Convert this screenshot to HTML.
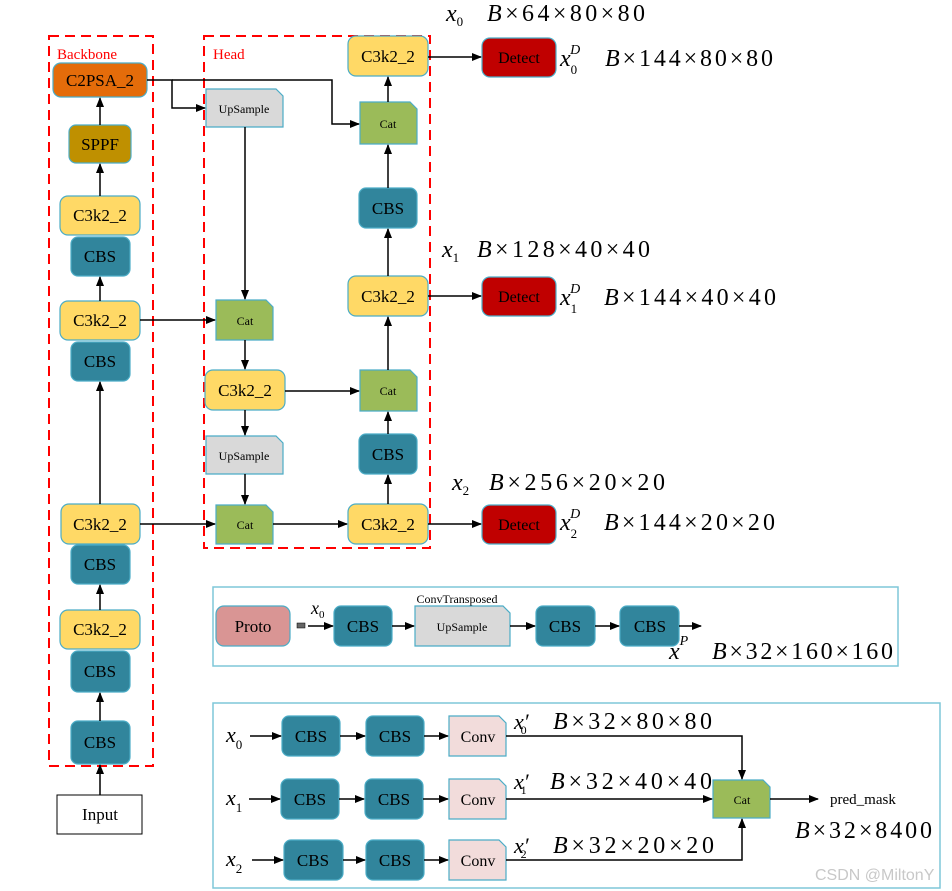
<!DOCTYPE html>
<html><head><meta charset="utf-8"><style>
html,body{margin:0;padding:0;background:#fff;}
svg{display:block;}
text{font-family:"Liberation Serif",serif;fill:#000;}
.m{font-style:italic;}
</style></head><body>
<svg width="952" height="891" viewBox="0 0 952 891" xmlns="http://www.w3.org/2000/svg">
<defs>
<marker id="a" markerWidth="10" markerHeight="8" refX="9" refY="4" orient="auto" markerUnits="userSpaceOnUse">
<path d="M0,0 L10,4 L0,8 z" fill="#000"/></marker>
</defs>
<g fill="none" stroke="#f00" stroke-width="2" stroke-dasharray="10,6">
<rect x="49" y="36" width="104" height="730"/>
<rect x="204" y="36" width="226" height="512"/>
</g>
<text x="57" y="59" font-size="15" style="fill:#f00">Backbone</text>
<text x="213" y="59" font-size="15" style="fill:#f00">Head</text>

<g stroke="#4bacc6" stroke-width="1.2">
<rect x="53" y="63" width="94" height="34" rx="8" fill="#e46c0a"/>
<rect x="69" y="125" width="62" height="38" rx="7" fill="#bf9000"/>
<rect x="60" y="196" width="80" height="39" rx="8" fill="#ffd966"/>
<rect x="71" y="237" width="59" height="39" rx="7" fill="#31859c"/>
<rect x="60" y="301" width="80" height="39" rx="8" fill="#ffd966"/>
<rect x="71" y="342" width="59" height="39" rx="7" fill="#31859c"/>
<rect x="61" y="504" width="79" height="40" rx="8" fill="#ffd966"/>
<rect x="71" y="545" width="59" height="39" rx="7" fill="#31859c"/>
<rect x="60" y="610" width="80" height="39" rx="8" fill="#ffd966"/>
<rect x="71" y="651" width="59" height="41" rx="7" fill="#31859c"/>
<rect x="71" y="721" width="59" height="43" rx="7" fill="#31859c"/>
<rect x="205" y="370" width="80" height="40" rx="8" fill="#ffd966"/>
<rect x="348" y="36" width="80" height="40" rx="8" fill="#ffd966"/>
<rect x="359" y="188" width="58" height="40" rx="7" fill="#31859c"/>
<rect x="348" y="276" width="80" height="40" rx="8" fill="#ffd966"/>
<rect x="359" y="434" width="58" height="40" rx="7" fill="#31859c"/>
<rect x="348" y="504" width="80" height="40" rx="8" fill="#ffd966"/>
<rect x="482" y="38" width="74" height="39" rx="8" fill="#c00000"/>
<rect x="482" y="277" width="74" height="39" rx="8" fill="#c00000"/>
<rect x="482" y="505" width="74" height="39" rx="8" fill="#c00000"/>
<rect x="216" y="606" width="74" height="40" rx="8" fill="#d99594"/>
<rect x="334" y="606" width="58" height="40" rx="7" fill="#31859c"/>
<rect x="536" y="606" width="59" height="40" rx="7" fill="#31859c"/>
<rect x="620" y="606" width="59" height="40" rx="7" fill="#31859c"/>
<rect x="282" y="716" width="58" height="40" rx="7" fill="#31859c"/>
<rect x="366" y="716" width="58" height="40" rx="7" fill="#31859c"/>
<rect x="281" y="779" width="58" height="40" rx="7" fill="#31859c"/>
<rect x="365" y="779" width="58" height="40" rx="7" fill="#31859c"/>
<rect x="284" y="840" width="59" height="40" rx="7" fill="#31859c"/>
<rect x="366" y="840" width="58" height="40" rx="7" fill="#31859c"/>
<polygon points="206,89 276,89 283,96 283,127 206,127" fill="#d9d9d9"/>
<polygon points="206,436 276,436 283,443 283,474 206,474" fill="#d9d9d9"/>
<polygon points="415,606 503,606 510,613 510,646 415,646" fill="#d9d9d9"/>
<polygon points="360,102 410,102 417,109 417,144 360,144" fill="#9bbb59"/>
<polygon points="216,300 266,300 273,307 273,340 216,340" fill="#9bbb59"/>
<polygon points="360,370 410,370 417,377 417,411 360,411" fill="#9bbb59"/>
<polygon points="216,505 266,505 273,512 273,544 216,544" fill="#9bbb59"/>
<polygon points="713,780 763,780 770,787 770,818 713,818" fill="#9bbb59"/>
<polygon points="449,716 499,716 506,723 506,756 449,756" fill="#f2dcdb"/>
<polygon points="449,779 499,779 506,786 506,819 449,819" fill="#f2dcdb"/>
<polygon points="449,840 499,840 506,847 506,880 449,880" fill="#f2dcdb"/>
</g>
<rect x="57" y="795" width="85" height="39" fill="#fff" stroke="#000" stroke-width="1"/>
<g fill="none" stroke="#7fc7d9" stroke-width="1.5">
<rect x="213" y="587" width="685" height="79"/>
<rect x="213" y="703" width="727" height="185"/>
</g>

<g font-size="17" text-anchor="middle">
<text x="100" y="86">C2PSA_2</text>
<text x="100" y="150">SPPF</text>
<text x="100" y="221">C3k2_2</text>
<text x="100" y="262">CBS</text>
<text x="100" y="326">C3k2_2</text>
<text x="100" y="367">CBS</text>
<text x="100" y="530">C3k2_2</text>
<text x="100" y="570">CBS</text>
<text x="100" y="635">C3k2_2</text>
<text x="100" y="677">CBS</text>
<text x="100" y="748">CBS</text>
<text x="100" y="820">Input</text>
<text x="245" y="396">C3k2_2</text>
<text x="388" y="62">C3k2_2</text>
<text x="388" y="214">CBS</text>
<text x="388" y="302">C3k2_2</text>
<text x="388" y="460">CBS</text>
<text x="388" y="530">C3k2_2</text>
<text x="253" y="632">Proto</text>
<text x="363" y="632">CBS</text>
<text x="565" y="632">CBS</text>
<text x="650" y="632">CBS</text>
<text x="311" y="742">CBS</text>
<text x="395" y="742">CBS</text>
<text x="310" y="805">CBS</text>
<text x="394" y="805">CBS</text>
<text x="313" y="866">CBS</text>
<text x="395" y="866">CBS</text>
</g>
<g font-size="16" text-anchor="middle">
<text x="519" y="63">Detect</text>
<text x="519" y="302">Detect</text>
<text x="519" y="530">Detect</text>
<text x="478" y="742">Conv</text>
<text x="478" y="805">Conv</text>
<text x="478" y="866">Conv</text>
</g>
<g font-size="12" text-anchor="middle">
<text x="244" y="113">UpSample</text>
<text x="244" y="460">UpSample</text>
<text x="462" y="631">UpSample</text>
<text x="388" y="128">Cat</text>
<text x="245" y="325">Cat</text>
<text x="388" y="395">Cat</text>
<text x="245" y="529">Cat</text>
<text x="742" y="804">Cat</text>
<text x="457" y="603">ConvTransposed</text>
</g>
<text x="830" y="804" font-size="15">pred_mask</text>

<g font-size="24">
<text x="446" y="21" class="m">x<tspan font-size="13" dy="5" font-style="normal">0</tspan></text>
<text x="487" y="21" textLength="158" lengthAdjust="spacing"><tspan class="m">B</tspan>×64×80×80</text>
<text x="560" y="66" class="m">x<tspan font-size="13" dy="8" font-style="normal">0</tspan><tspan font-size="14" dx="-7" dy="-20">D</tspan></text>
<text x="605" y="66" textLength="168" lengthAdjust="spacing"><tspan class="m">B</tspan>×144×80×80</text>
<text x="442" y="257" class="m">x<tspan font-size="13" dy="5" font-style="normal">1</tspan></text>
<text x="477" y="257" textLength="173" lengthAdjust="spacing"><tspan class="m">B</tspan>×128×40×40</text>
<text x="560" y="305" class="m">x<tspan font-size="13" dy="8" font-style="normal">1</tspan><tspan font-size="14" dx="-7" dy="-20">D</tspan></text>
<text x="604" y="305" textLength="172" lengthAdjust="spacing"><tspan class="m">B</tspan>×144×40×40</text>
<text x="452" y="490" class="m">x<tspan font-size="13" dy="5" font-style="normal">2</tspan></text>
<text x="489" y="490" textLength="176" lengthAdjust="spacing"><tspan class="m">B</tspan>×256×20×20</text>
<text x="560" y="530" class="m">x<tspan font-size="13" dy="8" font-style="normal">2</tspan><tspan font-size="14" dx="-7" dy="-20">D</tspan></text>
<text x="604" y="530" textLength="171" lengthAdjust="spacing"><tspan class="m">B</tspan>×144×20×20</text>
<text x="669" y="659" class="m">x<tspan font-size="14" dy="-14">P</tspan></text>
<text x="712" y="659" textLength="181" lengthAdjust="spacing"><tspan class="m">B</tspan>×32×160×160</text>
<text x="553" y="729" textLength="159" lengthAdjust="spacing"><tspan class="m">B</tspan>×32×80×80</text>
<text x="550" y="789" textLength="162" lengthAdjust="spacing"><tspan class="m">B</tspan>×32×40×40</text>
<text x="553" y="853" textLength="161" lengthAdjust="spacing"><tspan class="m">B</tspan>×32×20×20</text>
<text x="795" y="838" textLength="137" lengthAdjust="spacing"><tspan class="m">B</tspan>×32×8400</text>
</g>
<g font-size="22" class="m">
<text x="514" y="729">x′<tspan font-size="12" dx="-8" dy="5" font-style="normal">0</tspan></text>
<text x="514" y="789">x′<tspan font-size="12" dx="-8" dy="5" font-style="normal">1</tspan></text>
<text x="514" y="853">x′<tspan font-size="12" dx="-8" dy="5" font-style="normal">2</tspan></text>
<text x="226" y="742">x<tspan font-size="13" dy="7" font-style="normal">0</tspan></text>
<text x="226" y="805">x<tspan font-size="13" dy="7" font-style="normal">1</tspan></text>
<text x="226" y="866">x<tspan font-size="13" dy="7" font-style="normal">2</tspan></text>
<text x="311" y="614" font-size="18">x<tspan font-size="11" dy="4" font-style="normal">0</tspan></text>
</g>
<rect x="297" y="623" width="8" height="5" fill="#666" stroke="#000" stroke-width="0.5"/>

<g stroke="#000" stroke-width="1.5" fill="none" marker-end="url(#a)">
<line x1="100" y1="795" x2="100" y2="765"/>
<line x1="100" y1="721" x2="100" y2="693"/>
<line x1="100" y1="610" x2="100" y2="585"/>
<line x1="100" y1="504" x2="100" y2="382"/>
<line x1="100" y1="301" x2="100" y2="277"/>
<line x1="100" y1="196" x2="100" y2="164"/>
<line x1="100" y1="125" x2="100" y2="98"/>
<polyline points="147,80 172,80 172,108 205,108"/>
<polyline points="172,80 332,80 332,124 359,124"/>
<line x1="245" y1="127" x2="245" y2="299"/>
<line x1="140" y1="320" x2="215" y2="320"/>
<line x1="245" y1="340" x2="245" y2="369"/>
<line x1="285" y1="391" x2="359" y2="391"/>
<line x1="245" y1="410" x2="245" y2="435"/>
<line x1="245" y1="474" x2="245" y2="504"/>
<line x1="140" y1="524" x2="215" y2="524"/>
<line x1="273" y1="524" x2="347" y2="524"/>
<line x1="388" y1="504" x2="388" y2="475"/>
<line x1="388" y1="434" x2="388" y2="412"/>
<line x1="388" y1="370" x2="388" y2="317"/>
<line x1="388" y1="276" x2="388" y2="229"/>
<line x1="388" y1="188" x2="388" y2="145"/>
<line x1="388" y1="102" x2="388" y2="77"/>
<line x1="428" y1="57" x2="481" y2="57"/>
<line x1="428" y1="296" x2="481" y2="296"/>
<line x1="428" y1="524" x2="481" y2="524"/>
<line x1="308" y1="626" x2="333" y2="626"/>
<line x1="392" y1="626" x2="414" y2="626"/>
<line x1="510" y1="626" x2="535" y2="626"/>
<line x1="595" y1="626" x2="619" y2="626"/>
<line x1="679" y1="626" x2="701" y2="626"/>
<line x1="250" y1="736" x2="281" y2="736"/>
<line x1="340" y1="736" x2="365" y2="736"/>
<line x1="424" y1="736" x2="448" y2="736"/>
<line x1="249" y1="799" x2="280" y2="799"/>
<line x1="339" y1="799" x2="364" y2="799"/>
<line x1="423" y1="799" x2="448" y2="799"/>
<line x1="252" y1="860" x2="283" y2="860"/>
<line x1="343" y1="860" x2="365" y2="860"/>
<line x1="424" y1="860" x2="448" y2="860"/>
<polyline points="506,736 742,736 742,779"/>
<line x1="506" y1="799" x2="712" y2="799"/>
<polyline points="506,860 742,860 742,819"/>
<line x1="770" y1="799" x2="818" y2="799"/>
</g>
<text x="815" y="880" font-size="16" style="fill:#c8c8c8;font-family:'Liberation Sans',sans-serif">CSDN @MiltonY</text>
</svg>
</body></html>
